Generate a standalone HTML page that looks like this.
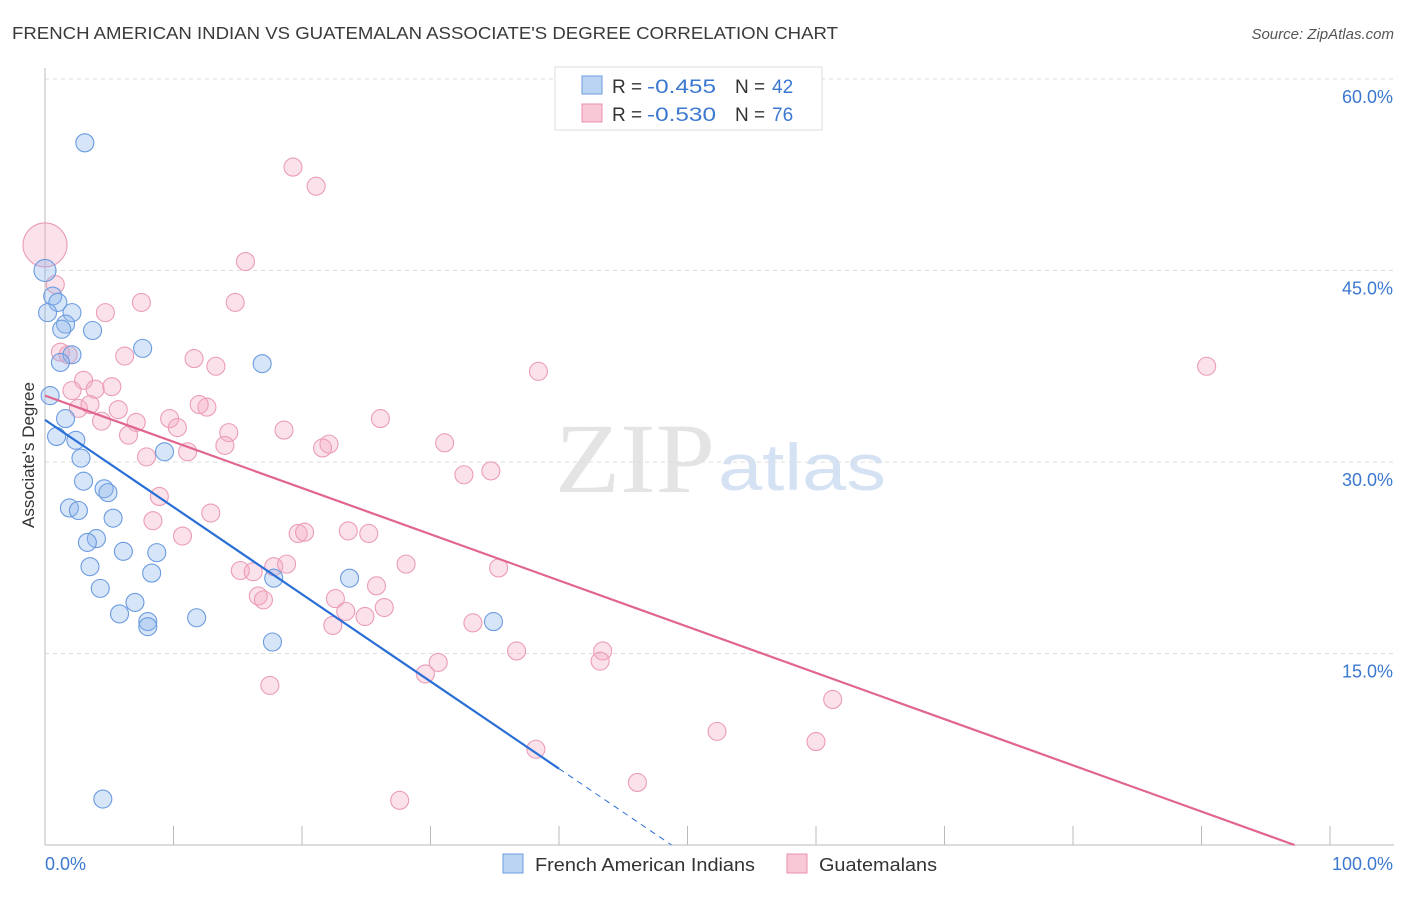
<!DOCTYPE html>
<html><head><meta charset="utf-8"><style>
body{margin:0;background:#fff;font-family:"Liberation Sans",sans-serif;}
</style></head><body>
<svg id="c" width="1406" height="892" xmlns="http://www.w3.org/2000/svg" style="font-family:'Liberation Sans',sans-serif">
<text x="12" y="39" font-size="17.5" fill="#3a3a3a" textLength="826" lengthAdjust="spacingAndGlyphs">FRENCH AMERICAN INDIAN VS GUATEMALAN ASSOCIATE'S DEGREE CORRELATION CHART</text>
<text x="1394" y="39" font-size="15" fill="#555" text-anchor="end" font-style="italic">Source: ZipAtlas.com</text>
<text x="555" y="492" font-size="100" fill="#e4e4e4" font-family="Liberation Serif" textLength="160" lengthAdjust="spacingAndGlyphs">ZIP</text>
<text x="718" y="490" font-size="66" fill="#d5e2f3" textLength="168" lengthAdjust="spacingAndGlyphs">atlas</text>
<g id="grid"></g><g id="axes"></g><g id="pts"></g><g id="lines"></g>
<text transform="translate(34,455) rotate(-90)" font-size="17" fill="#333" text-anchor="middle">Associate's Degree</text>
<g>
<rect x="555" y="67" width="267" height="63" fill="#fff" stroke="#ddd"/>
<rect x="582" y="76" width="20" height="18" fill="#bcd4f4" stroke="#6b9be0"/>
<rect x="582" y="104" width="20" height="18" fill="#f9c8d6" stroke="#e890ab"/>
<text x="612" y="93" font-size="19" fill="#333">R =</text>
<text x="647" y="93" font-size="19" fill="#3b78d0" textLength="69" lengthAdjust="spacingAndGlyphs">-0.455</text>
<text x="735" y="93" font-size="19" fill="#333">N =</text>
<text x="772" y="93" font-size="19" fill="#3b78d0">42</text>
<text x="612" y="121" font-size="19" fill="#333">R =</text>
<text x="647" y="121" font-size="19" fill="#3b78d0" textLength="69" lengthAdjust="spacingAndGlyphs">-0.530</text>
<text x="735" y="121" font-size="19" fill="#333">N =</text>
<text x="772" y="121" font-size="19" fill="#3b78d0">76</text>
</g>
<g>
<rect x="503" y="854" width="20" height="19" fill="#bcd4f4" stroke="#6b9be0"/>
<text x="535" y="871" font-size="18.5" fill="#333" textLength="220" lengthAdjust="spacingAndGlyphs">French American Indians</text>
<rect x="787" y="854" width="20" height="19" fill="#f9c8d6" stroke="#e890ab"/>
<text x="819" y="871" font-size="18.5" fill="#333" textLength="118" lengthAdjust="spacingAndGlyphs">Guatemalans</text>
</g>
</svg>
<script>
const blueX=[3.1,0,0.6,1.0,0.2,2.1,1.6,1.3,3.7,7.6,2.1,1.2,16.9,0.4,1.6,0.9,2.4,9.3,2.8,3.0,1.9,2.6,4.6,4.9,5.3,4.0,3.3,6.1,8.7,3.5,8.3,17.8,23.7,4.3,7.0,5.8,11.8,8.0,8.0,34.9,17.7,4.5];
const blueY=[55.0,45.0,43.0,42.5,41.7,41.7,40.8,40.4,40.3,38.9,38.4,37.8,37.7,35.2,33.4,32.0,31.7,30.8,30.3,28.5,26.4,26.2,27.9,27.6,25.6,24.0,23.7,23.0,22.9,21.8,21.3,20.9,20.9,20.1,19.0,18.1,17.8,17.5,17.1,17.5,15.9,3.6];
const pinkX=[0,0.8,15.6,19.3,21.1,7.5,4.7,14.8,1.2,1.8,6.2,11.6,13.3,38.4,90.4,3.0,5.2,2.1,3.9,12.6,12.0,2.6,3.5,5.7,7.1,9.7,4.4,10.3,6.5,14.3,26.1,18.6,31.1,22.1,21.6,14.0,11.1,7.9,32.6,34.7,8.9,12.9,8.4,10.7,23.6,25.2,19.7,20.2,28.1,15.2,16.2,17.8,18.8,35.3,25.8,22.6,16.6,17.0,26.4,23.4,24.9,22.4,33.3,36.7,43.4,43.2,30.6,29.6,17.5,61.3,52.3,60.0,38.2,46.1,27.6];
const pinkY=[47.0,43.9,45.7,53.1,51.6,42.5,41.7,42.5,38.6,38.4,38.3,38.1,37.5,37.1,37.5,36.4,35.9,35.6,35.7,34.3,34.5,34.2,34.5,34.1,33.1,33.4,33.2,32.7,32.1,32.3,33.4,32.5,31.5,31.4,31.1,31.3,30.8,30.4,29.0,29.3,27.3,26.0,25.4,24.2,24.6,24.4,24.4,24.5,22.0,21.5,21.4,21.8,22.0,21.7,20.3,19.3,19.5,19.2,18.6,18.3,17.9,17.2,17.4,15.2,15.2,14.4,14.3,13.4,12.5,11.4,8.9,8.1,7.5,4.9,3.5];
const yTicks=[15,30,45,60];
const yTickLabels=["15.0%","30.0%","45.0%","60.0%"];
const xTicks=[0,10,20,30,40,50,60,70,80,90,100];
const blueLine=[33.3,-0.683];
const pinkLine=[35.2,-0.362];
const NS="http://www.w3.org/2000/svg";
const sx=v=>45+v*12.85, sy=v=>845-v*12.767;
function mk(tag,at,parent){const e=document.createElementNS(NS,tag);for(const k in at)e.setAttribute(k,at[k]);document.getElementById(parent).appendChild(e);return e;}
yTicks.forEach((t,i)=>{
 const l=mk('line',{x1:45,x2:1394,y1:sy(t),y2:sy(t),stroke:'#ddd','stroke-dasharray':'4,4'},'grid');
 
 
 const tx=mk('text',{x:1393,y:sy(t)+24,'font-size':18,fill:'#3b78d0','text-anchor':'end'},'grid');
 tx.textContent=yTickLabels[i];
 
 
});
let a=mk('line',{x1:45,x2:45,y1:68,y2:845,stroke:'#bbb'},'axes');


a=mk('line',{x1:45,x2:1394,y1:845,y2:845,stroke:'#bbb'},'axes');


xTicks.forEach(t=>{const l=mk('line',{x1:sx(t),x2:sx(t),y1:826,y2:845,stroke:'#bbb'},'axes');
 
 });
let t0=mk('text',{x:45,y:870,'font-size':18,fill:'#3b78d0'},'axes');t0.textContent='0.0%';


let t1=mk('text',{x:1393,y:870,'font-size':18,fill:'#3b78d0','text-anchor':'end'},'axes');t1.textContent='100.0%';


pinkX.forEach((x,i)=>{const c=mk('circle',{cx:sx(x),cy:sy(pinkY[i]),r:i==0?22:9,fill:'rgba(244,170,195,0.35)',stroke:'#eb9db6','stroke-width':1.1},'pts');
 
 });
blueX.forEach((x,i)=>{const c=mk('circle',{cx:sx(x),cy:sy(blueY[i]),r:i==1?11:9,fill:'rgba(140,180,235,0.35)',stroke:'#6b9be0','stroke-width':1.1},'pts');
 
 });
const bEnd=40, bZero=-blueLine[0]/blueLine[1];
let l=mk('line',{x1:sx(0),y1:sy(blueLine[0]),x2:sx(bEnd),y2:sy(blueLine[0]+blueLine[1]*bEnd),stroke:'#2a6fd6','stroke-width':2.2},'lines');


l=mk('line',{x1:sx(bEnd),y1:sy(blueLine[0]+blueLine[1]*bEnd),x2:sx(bZero),y2:sy(0),stroke:'#2a6fd6','stroke-width':1,'stroke-dasharray':'6,5'},'lines');


const pZero=-pinkLine[0]/pinkLine[1];
l=mk('line',{x1:sx(0),y1:sy(pinkLine[0]),x2:sx(pZero),y2:sy(0),stroke:'#e0668f','stroke-width':2.2},'lines');


</script>
</body></html>
